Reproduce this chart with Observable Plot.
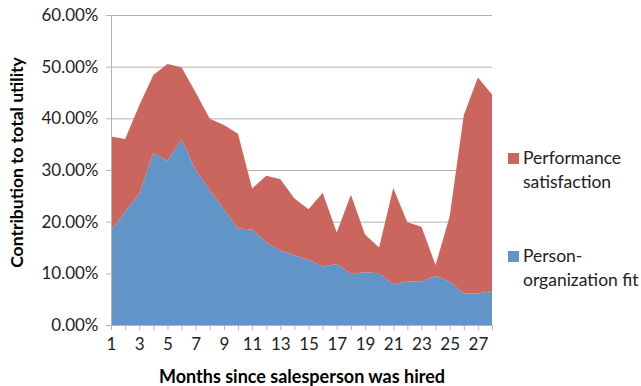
<!DOCTYPE html>
<html><head><meta charset="utf-8">
<script src="https://cdn.jsdelivr.net/npm/d3@7"></script>
<script src="https://cdn.jsdelivr.net/npm/@observablehq/plot@0.6"></script>
<style>
body{margin:0;background:#fff;}
#wrap{position:relative;width:641px;height:386px;font-family:Lato,sans-serif;}
.leg{position:absolute;left:508px;font-size:17.5px;color:#222;line-height:24px;}
.leg .sw{position:absolute;left:0;top:7px;width:11px;height:11px;}
.leg .t{padding-left:15px;white-space:nowrap;}
</style></head>
<body><div id="wrap"></div>
<script>
const months = [1,2,3,4,5,6,7,8,9,10,11,12,13,14,15,16,17,18,19,20,21,22,23,24,25,26,27,28];
const fit  = [18.3,21.9,25.4,33.3,31.8,35.9,30.0,26.1,22.4,18.7,18.5,16.0,14.4,13.5,12.6,11.3,11.8,9.9,10.2,10.0,7.9,8.4,8.4,9.5,8.4,6.1,6.1,6.6];
const perf = [18.2,14.1,17.1,15.1,18.7,14.0,15.0,13.8,16.3,18.3,7.9,12.9,13.8,11.0,9.8,14.3,6.1,15.3,7.3,5.0,18.6,11.5,10.6,2.1,12.6,34.5,41.8,38.0];
const seriesNames = ["Person-organization fit","Performance satisfaction"];
const legendLines = [["Performance","satisfaction"],["Person-","organization fit"]];
const colors = ["#6195c8","#cb665f"];
const yTicks = [0,10,20,30,40,50,60];
const yTitle = "Contribution to total utility";
const xTitle = "Months since salesperson was hired";

const data = months.flatMap((m,i)=>[
  {month:m, series:seriesNames[0], value:fit[i]},
  {month:m, series:seriesNames[1], value:perf[i]}
]);

const chart = Plot.plot({
  width:641, height:386,
  marginLeft:111, marginRight:149, marginTop:15, marginBottom:61,
  style:{fontFamily:"Lato, sans-serif", fontSize:"17px", color:"#222", background:"#fff"},
  x:{domain:[1,28]},
  y:{domain:[0,60]},
  color:{domain:seriesNames, range:colors},
  marks:[
    Plot.gridY(yTicks,{stroke:"#b3b3b3", strokeOpacity:1}),
    Plot.areaY(data,{x:"month", y:"value", fill:"series", order:seriesNames}),
    Plot.ruleY([0],{stroke:"#b3b3b3"}),
    Plot.ruleX([1],{stroke:"#b3b3b3"}),
    Plot.axisY(yTicks,{tickFormat:d=>d.toFixed(2)+"%", tickSize:5, tickPadding:8, stroke:"#b3b3b3", label:null, fontSize:17}),
    Plot.axisX(months,{tickFormat:d=>d%2?String(d):"", tickSize:5, tickPadding:7, stroke:"#b3b3b3", label:null, fontSize:17}),
    Plot.text([yTitle],{text:d=>d, frameAnchor:"left", textAnchor:"middle", rotate:-90, dx:-94, dy:-8, fontWeight:"bold", fontSize:17.5, fill:"#000"}),
    Plot.text([xTitle],{text:d=>d, frameAnchor:"bottom", dy:57, fontWeight:"bold", fontSize:18, fill:"#000"})
  ]
});
const wrap = document.getElementById("wrap");
wrap.appendChild(chart);
const tops = [146, 244];
[1,0].forEach((si,k)=>{
  const d = document.createElement("div");
  d.className = "leg";
  d.style.top = tops[k]+"px";
  d.innerHTML = `<div class="sw" style="background:${colors[si]}"></div>` + legendLines[k].map(l=>`<div class="t">${l}</div>`).join("");
  wrap.appendChild(d);
});
</script>
</body></html>
